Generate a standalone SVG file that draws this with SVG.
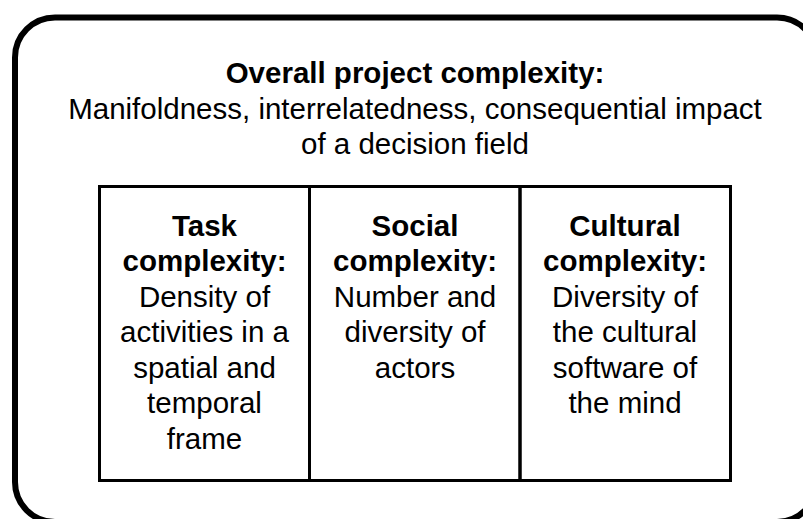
<svg xmlns="http://www.w3.org/2000/svg" width="803" height="519" viewBox="0 0 803 519">
<style>
.t{font-family:"Liberation Sans",Arial,Helvetica,sans-serif;font-size:29.5px;fill:#000;text-anchor:middle}
.b{font-weight:bold}
.box{fill:none;stroke:#000}
</style>
<rect width="803" height="519" fill="#fff"/>
<g id="overall">
<rect class="box" x="15" y="17.5" width="802" height="504.5" rx="40" ry="40" stroke-width="6"/>
<text class="t b" x="415" y="83">Overall project complexity:</text>
<text class="t" x="415" y="118.5">Manifoldness, interrelatedness, consequential impact</text>
<text class="t" x="415" y="153.5">of a decision field</text>
</g>
<g id="task">
<rect class="box" x="99.5" y="186.5" width="210" height="294" stroke-width="3"/>
<text class="t b" x="204.5" y="235.5">Task</text>
<text class="t b" x="204.5" y="271">complexity:</text>
<text class="t" x="204.5" y="306.5">Density of</text>
<text class="t" x="204.5" y="342">activities in a</text>
<text class="t" x="204.5" y="377.5">spatial and</text>
<text class="t" x="204.5" y="413">temporal</text>
<text class="t" x="204.5" y="448.5">frame</text>
</g>
<g id="social">
<rect class="box" x="309.5" y="186.5" width="210.5" height="294" stroke-width="3"/>
<text class="t b" x="415" y="235.5">Social</text>
<text class="t b" x="415" y="271">complexity:</text>
<text class="t" x="415" y="306.5">Number and</text>
<text class="t" x="415" y="342">diversity of</text>
<text class="t" x="415" y="377.5">actors</text>
</g>
<g id="cultural">
<rect class="box" x="520" y="186.5" width="210.5" height="294" stroke-width="3"/>
<text class="t b" x="625" y="235.5">Cultural</text>
<text class="t b" x="625" y="271">complexity:</text>
<text class="t" x="625" y="306.5">Diversity of</text>
<text class="t" x="625" y="342">the cultural</text>
<text class="t" x="625" y="377.5">software of</text>
<text class="t" x="625" y="413">the mind</text>
</g>
<g id="connectors"></g>
</svg>
